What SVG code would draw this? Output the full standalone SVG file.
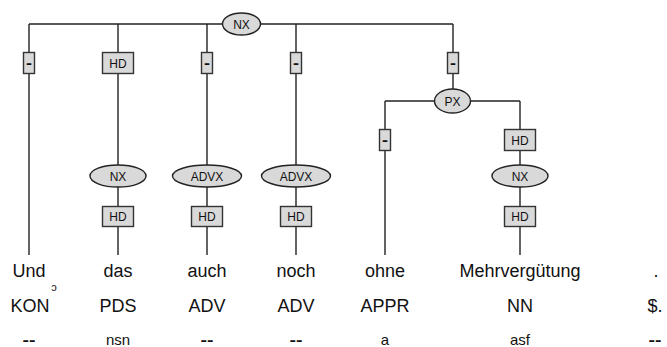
<svg xmlns="http://www.w3.org/2000/svg" width="667" height="347" viewBox="0 0 667 347">
<style>
.ln{stroke:#222;stroke-width:1.4;fill:none}
.bx{fill:#d9d9d9;stroke:#333;stroke-width:1.4}
.el{fill:#d9d9d9;stroke:#222;stroke-width:1.4}
.lb{font-family:"Liberation Sans",Arial,sans-serif;font-size:12px;fill:#111;text-anchor:middle}
.dl{font-family:"Liberation Sans",Arial,sans-serif;font-size:14px;font-weight:bold;fill:#111;text-anchor:middle}
.w{font-family:"Liberation Sans",Arial,sans-serif;font-size:18px;fill:#111;text-anchor:middle}
.m{font-family:"Liberation Sans",Arial,sans-serif;font-size:15px;fill:#111;text-anchor:middle}
.dd{font-family:"Liberation Sans",Arial,sans-serif;font-size:15px;font-weight:bold;fill:#111;text-anchor:middle}
</style>
<rect width="667" height="347" fill="#fff"/>
<g id="connectors">
<path class="ln" d="M29 24H453"/>
<path class="ln" d="M29 24V255"/>
<path class="ln" d="M118 24V255"/>
<path class="ln" d="M207 24V255"/>
<path class="ln" d="M296 24V255"/>
<path class="ln" d="M453 24V101"/>
<path class="ln" d="M385 101H520"/>
<path class="ln" d="M385 101V255"/>
<path class="ln" d="M520 101V255"/>
</g>
<g id="edge-labels">
<g id="e1"><rect class="bx" x="23.5" y="52.5" width="11" height="21"/><text class="dl" x="29" y="68" textLength="6" lengthAdjust="spacingAndGlyphs">-</text></g>
<g id="e2"><rect class="bx" x="102.5" y="52.5" width="31" height="21"/><text class="lb" x="118" y="67.5">HD</text></g>
<g id="e3"><rect class="bx" x="201.5" y="52.5" width="11" height="21"/><text class="dl" x="207" y="68" textLength="6" lengthAdjust="spacingAndGlyphs">-</text></g>
<g id="e4"><rect class="bx" x="290.5" y="52.5" width="11" height="21"/><text class="dl" x="296" y="68" textLength="6" lengthAdjust="spacingAndGlyphs">-</text></g>
<g id="e5"><rect class="bx" x="447.5" y="52.5" width="11" height="21"/><text class="dl" x="453" y="68" textLength="6" lengthAdjust="spacingAndGlyphs">-</text></g>
<g id="e6"><rect class="bx" x="379.5" y="129.5" width="11" height="21"/><text class="dl" x="385" y="145" textLength="6" lengthAdjust="spacingAndGlyphs">-</text></g>
<g id="e7"><rect class="bx" x="504.5" y="129.5" width="31" height="21"/><text class="lb" x="520" y="144.5">HD</text></g>
<g id="e8"><rect class="bx" x="102.5" y="206.5" width="31" height="20"/><text class="lb" x="118" y="221">HD</text></g>
<g id="e9"><rect class="bx" x="191.5" y="206.5" width="31" height="20"/><text class="lb" x="207" y="221">HD</text></g>
<g id="e10"><rect class="bx" x="280.5" y="206.5" width="31" height="20"/><text class="lb" x="296" y="221">HD</text></g>
<g id="e11"><rect class="bx" x="504.5" y="206.5" width="31" height="20"/><text class="lb" x="520" y="221">HD</text></g>
</g>
<g id="nx-top"><ellipse class="el" cx="241.5" cy="24" rx="19" ry="11"/><text class="lb" x="241.5" y="28.5">NX</text></g>
<g id="px"><ellipse class="el" cx="452.5" cy="101" rx="18" ry="12"/><text class="lb" x="452.5" y="105.5">PX</text></g>
<g id="nx-das"><ellipse class="el" cx="118" cy="176" rx="28" ry="11"/><text class="lb" x="118" y="180.5">NX</text></g>
<g id="advx-auch"><ellipse class="el" cx="207" cy="176" rx="34.5" ry="11"/><text class="lb" x="207" y="180.5">ADVX</text></g>
<g id="advx-noch"><ellipse class="el" cx="296" cy="176" rx="34.5" ry="11"/><text class="lb" x="296" y="180.5">ADVX</text></g>
<g id="nx-mehr"><ellipse class="el" cx="520" cy="176" rx="28" ry="11"/><text class="lb" x="520" y="180.5">NX</text></g>
<g id="tokens">
<g id="t1"><text class="w" x="29" y="277">Und</text><text class="w" x="30" y="312">KON</text><text class="dd" x="29" y="345" textLength="13" lengthAdjust="spacingAndGlyphs">--</text></g>
<g id="t2"><text class="w" x="118" y="277">das</text><text class="w" x="118" y="312">PDS</text><text class="m" x="118" y="345">nsn</text></g>
<g id="t3"><text class="w" x="207" y="277">auch</text><text class="w" x="207" y="312">ADV</text><text class="dd" x="207" y="345" textLength="13" lengthAdjust="spacingAndGlyphs">--</text></g>
<g id="t4"><text class="w" x="296" y="277">noch</text><text class="w" x="296" y="312">ADV</text><text class="dd" x="296" y="345" textLength="13" lengthAdjust="spacingAndGlyphs">--</text></g>
<g id="t5"><text class="w" x="385" y="277">ohne</text><text class="w" x="385" y="312">APPR</text><text class="m" x="385" y="345">a</text></g>
<g id="t6"><text class="w" x="520" y="277">Mehrvergütung</text><text class="w" x="520" y="312">NN</text><text class="m" x="520" y="345">asf</text></g>
<g id="t7"><text class="w" x="656" y="277">.</text><text class="w" x="655" y="312">$.</text><text class="dd" x="655" y="345" textLength="13" lengthAdjust="spacingAndGlyphs">--</text></g>
<text class="m" x="54" y="291" style="font-size:11px">ɔ</text>
</g>
</svg>
